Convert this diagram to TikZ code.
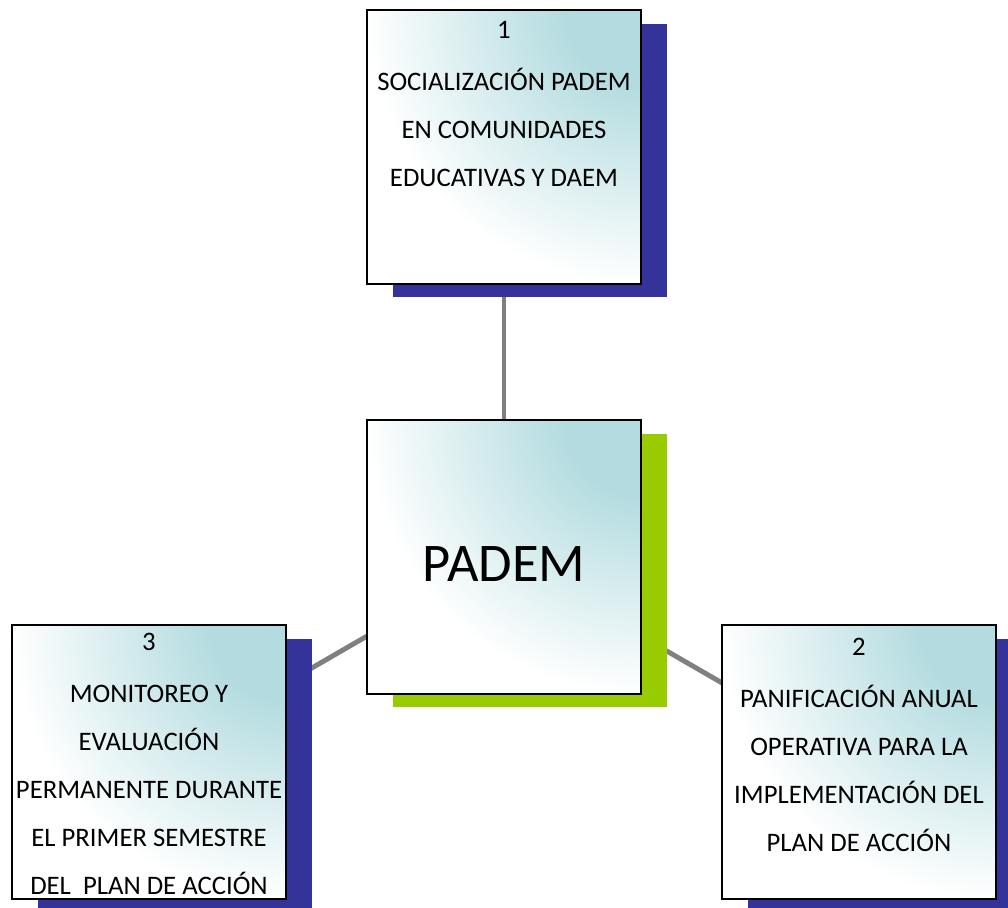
\documentclass[tikz,border=0pt]{standalone}
\usepackage{fontspec}
\setmainfont{Carlito}
\usetikzlibrary{shadows,backgrounds}
\definecolor{tealtint}{RGB}{180,220,224}
\definecolor{shadowblue}{RGB}{51,51,153}
\definecolor{shadowgreen}{RGB}{153,204,0}
\definecolor{linkgray}{RGB}{128,128,128}
\pgfdeclareradialshading{cardglow}{\pgfpoint{0bp}{0bp}}{color(0bp)=(tealtint); color(7bp)=(tealtint); color(25bp)=(white); color(50bp)=(white)}
\tikzset{
  card/.style={draw=black, line width=0.9pt, minimum size=5.48cm, inner sep=0pt, fill=white,
    path picture={\shade[shading=cardglow]
      ([shift={(-5.5cm,-5.5cm)}]path picture bounding box.north east) rectangle
      ([shift={(5.5cm,5.5cm)}]path picture bounding box.north east);},
    general shadow={fill=#1, shadow xshift=0.52cm, shadow yshift=-0.27cm}},
  cardtxt/.style={align=center, anchor=base, inner sep=0pt,
    font=\fontsize{15.2}{27.3}\selectfont},
  link/.style={draw=linkgray, line width=2.8pt}
}
\begin{document}
\begin{tikzpicture}[x=0.02cm, y=-0.02cm]
   \useasboundingbox (0,0) rectangle (1008,907);
   % boxes
   \node[card=shadowblue] (s1) at (504,147) {};
   \node[card=shadowgreen] (hub) at (504,557) {};
   \node[card=shadowblue] (s3) at (149,762) {};
   \node[card=shadowblue] (s2) at (859,762) {};
   % texts (base = last line)
   \node[font=\fontsize{31}{36}\selectfont, anchor=base, inner sep=0pt] (hubtxt)
      at ([yshift=-0.48cm]hub.center) {PADEM};
   \node[cardtxt] (t1) at ([yshift=-3.54cm]s1.north)
      {1\\[2.3pt] SOCIALIZACIÓN PADEM\\ EN COMUNIDADES\\ EDUCATIVAS Y DAEM};
   \node[cardtxt] (t2) at ([yshift=-4.54cm]s2.north)
      {2\\[2.3pt] PANIFICACIÓN ANUAL\\ OPERATIVA PARA LA\\ IMPLEMENTACIÓN DEL\\ PLAN DE ACCIÓN};
   \node[cardtxt] (t3) at ([yshift=-5.40cm]s3.north)
      {3\\[2.3pt] MONITOREO Y\\ EVALUACIÓN\\ PERMANENTE DURANTE\\ EL PRIMER SEMESTRE\\ DEL\ \ PLAN DE ACCIÓN};
   % links
   \begin{scope}[on background layer]
      \draw[link] (hub.center) -- (s1.center);
      \draw[link] (hub.center) -- (s2.center);
      \draw[link] (hub.center) -- (s3.center);
   \end{scope}
\end{tikzpicture}
\end{document}
